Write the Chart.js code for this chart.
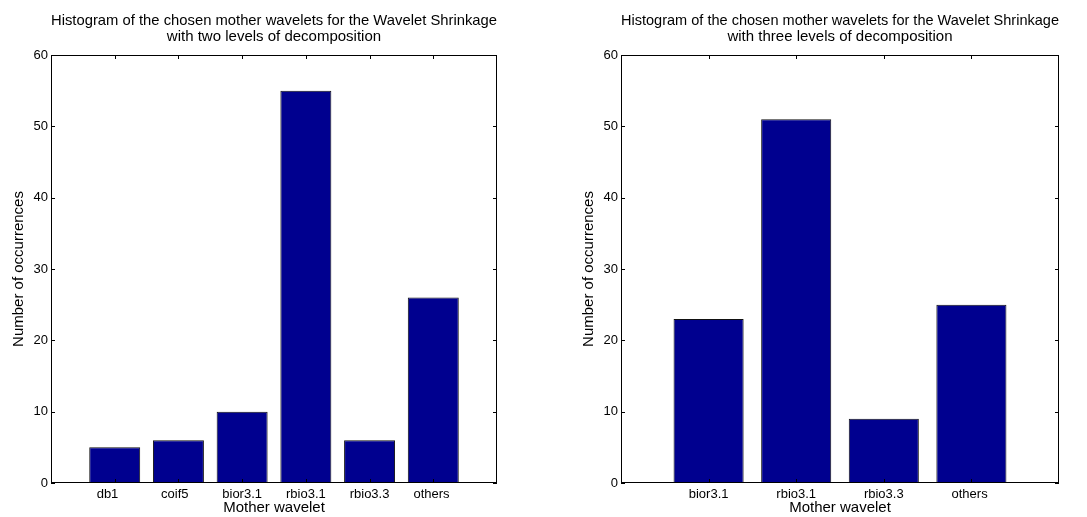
<!DOCTYPE html>
<html>
<head>
<meta charset="utf-8">
<script src="https://cdn.jsdelivr.net/npm/chart.js@4/dist/chart.umd.min.js"></script>
<style>
  body { margin: 0; background: #fff; width: 1087px; height: 517px; position: relative; overflow: hidden; }
  .panel { position: absolute; top: 0; }
</style>
</head>
<body>
<div class="panel" style="left:0px"><canvas id="chartTwo" width="540" height="517"></canvas></div>
<div class="panel" style="left:570px"><canvas id="chartThree" width="517" height="517"></canvas></div>
<script>
// Data
const twoLevelWavelets = ['db1', 'coif5', 'bior3.1', 'rbio3.1', 'rbio3.3', 'others'];
const twoLevelCounts = [5, 6, 10, 55, 6, 26];

const threeLevelWavelets = ['bior3.1', 'rbio3.1', 'rbio3.3', 'others'];
const threeLevelCounts = [23, 51, 9, 25];

const yTicks = [0, 10, 20, 30, 40, 50, 60];

const barColor = '#00008f';
const fontFamily = "'Liberation Sans', Arial, Helvetica, sans-serif";

// MATLAB style box with inward tick marks
const frameTicks = {
  id: 'frameTicks',
  afterDatasetsDraw(chart) {
    const { ctx, chartArea: a, scales: { x, y } } = chart;
    const len = 4;
    ctx.save();
    ctx.strokeStyle = '#000';
    ctx.lineWidth = 1;
    ctx.strokeRect(Math.round(a.left) + 0.5, Math.round(a.top) + 0.5,
      Math.round(a.width) - 1, Math.round(a.height) - 1);
    ctx.beginPath();
    x.ticks.forEach(t => {
      if (t.value < 1 || t.value > chart.data.datasets[0].data.length) return;
      const px = Math.round(x.getPixelForValue(t.value)) + 0.5;
      ctx.moveTo(px, a.bottom); ctx.lineTo(px, a.bottom - len);
      ctx.moveTo(px, a.top); ctx.lineTo(px, a.top + len);
    });
    yTicks.forEach(v => {
      const py = Math.round(y.getPixelForValue(v)) + 0.5;
      ctx.moveTo(a.left, py); ctx.lineTo(a.left + len, py);
      ctx.moveTo(a.right, py); ctx.lineTo(a.right - len, py);
    });
    ctx.stroke();
    ctx.restore();
  }
};

function makeChart(id, titleLines, labels, counts, rightPad) {
  const points = counts.map((c, i) => ({ x: i + 1, y: c }));
  // labels padded like a MATLAB char matrix, so short ones sit a bit left
  const width = Math.max(...labels.map(l => l.length));
  return new Chart(document.getElementById(id), {
    type: 'bar',
    data: {
      datasets: [{
        data: points,
        backgroundColor: barColor,
        borderColor: '#111',
        borderWidth: 1,
        borderSkipped: false,
        categoryPercentage: 1,
        barPercentage: 0.8
      }]
    },
    options: {
      responsive: false,
      animation: false,
      layout: { padding: { left: 0, right: rightPad, top: 0, bottom: 0 } },
      plugins: {
        legend: { display: false },
        tooltip: { enabled: false },
        title: {
          display: true,
          text: titleLines,
          fullSize: false,
          color: '#000',
          font: { family: fontFamily, size: 15, weight: 'normal', lineHeight: 1.1 },
          padding: { top: 12.5, bottom: 9.5 }
        }
      },
      scales: {
        x: {
          type: 'linear',
          offset: false,
          min: 0,
          max: labels.length + 1,
          grid: { display: false, drawTicks: false, offset: false },
          border: { display: false },
          ticks: {
            stepSize: 1,
            autoSkip: false,
            maxRotation: 0,
            padding: 4,
            color: '#000',
            font: { family: fontFamily, size: 13 },
            callback: v => labels[v - 1] ? labels[v - 1].padEnd(width, ' ') : ''
          },
          title: {
            display: true,
            text: 'Mother wavelet',
            color: '#000',
            font: { family: fontFamily, size: 15 },
            padding: 0
          },
          afterFit: s => { s.height = 34; }
        },
        y: {
          min: 0,
          max: 60,
          grid: { display: false, drawTicks: false },
          border: { display: false },
          ticks: {
            stepSize: 10,
            padding: 3,
            color: '#000',
            font: { family: fontFamily, size: 13 }
          },
          title: {
            display: true,
            text: 'Number of occurrences',
            color: '#000',
            font: { family: fontFamily, size: 15 },
            padding: { top: 10, bottom: 10 }
          },
          afterFit: s => { s.width = 51; }
        }
      }
    },
    plugins: [frameTicks]
  });
}

makeChart('chartTwo',
  ['Histogram of the chosen mother wavelets for the Wavelet Shrinkage', 'with two levels of decomposition'],
  twoLevelWavelets, twoLevelCounts, 43);

makeChart('chartThree',
  ['Histogram of the chosen mother wavelets for the Wavelet Shrinkage', 'with three levels of decomposition'],
  threeLevelWavelets, threeLevelCounts, 28);
</script>
</body>
</html>
